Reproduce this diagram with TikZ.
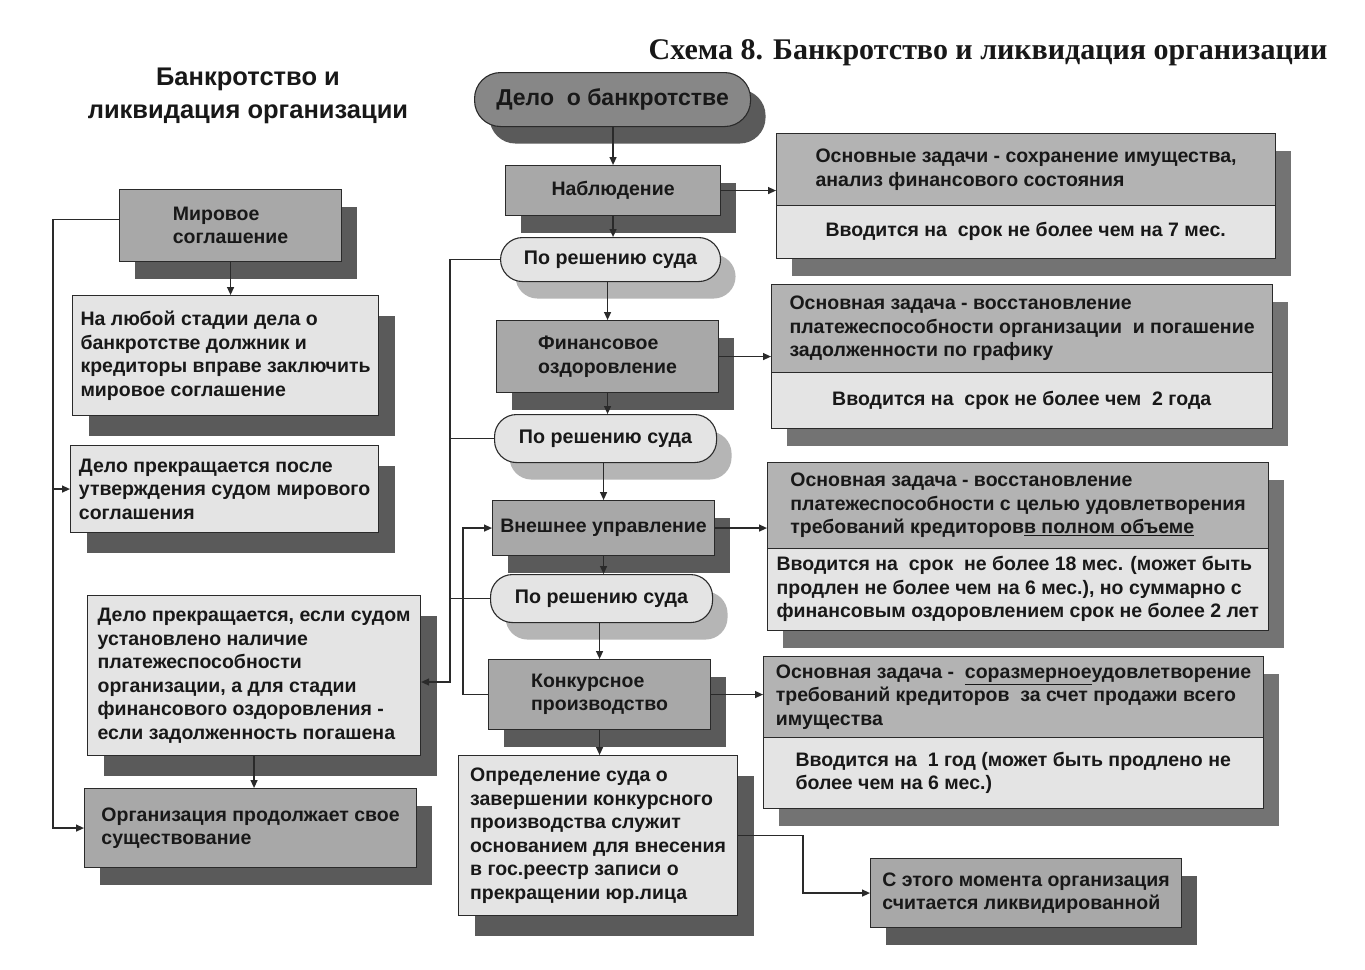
\documentclass[tikz,border=0pt]{standalone}
\usepackage{fontspec}
\setmainfont{Liberation Sans}
\newfontfamily\titleserif{Liberation Serif}
\usetikzlibrary{arrows.meta,shadows,calc}
\definecolor{txt}{HTML}{181818}
\definecolor{edge}{HTML}{2A2A2A}
\definecolor{midg}{HTML}{A8A8A8}
\definecolor{dkg}{HTML}{878787}
\definecolor{ltg}{HTML}{E4E4E4}
\definecolor{topg}{HTML}{B3B3B3}
\definecolor{shd}{HTML}{5A5A5A}
\definecolor{shdl}{HTML}{B5B5B5}
\newcommand\mkbox[7]{\node[#2, minimum width={(#5-#3)*1pt}, minimum height={(#6-#4)*1pt}, anchor=north west] (#1) at (#3,#4) {#7};}
\begin{document}
\begin{tikzpicture}[x=1pt,y=-1pt,
  every node/.style={font=\bfseries\fontsize{19.5}{23.5}\selectfont, text=txt},
  base/.style={draw=edge, line width=1.1pt, inner sep=0pt, align=left},
  dshadow/.style={drop shadow={shadow xshift=15pt, shadow yshift=-17pt, fill=shd, opacity=1}},
  lshadow/.style={drop shadow={shadow xshift=16pt, shadow yshift=-20pt, fill=shd, opacity=1}},
  procbox/.style={base, fill=midg, dshadow},
  textbox/.style={base, fill=ltg, lshadow},
  deloshape/.style={base, fill=dkg, rounded corners=26pt, dshadow, font=\bfseries\fontsize{23}{27}\selectfont},
  courtbox/.style={base, fill=ltg, rounded corners=22pt, font=\bfseries\fontsize{19.7}{23}\selectfont,
     drop shadow={shadow xshift=15pt, shadow yshift=-17pt, fill=shdl, opacity=1}},
  rbox/.style={base, fill=ltg, drop shadow={shadow xshift=15pt, shadow yshift=-17pt, fill=shd!85!white, opacity=1}},
  rtop/.style={base, fill=topg},
  rbot/.style={draw=none, inner sep=0pt, align=left},
  conn/.style={draw=edge, line width=1.3pt},
  arr/.style={conn, -{Triangle[length=8pt, width=7pt]}}
]
\fill[white] (0,0) rectangle (1365,969);
\useasboundingbox (0,0) rectangle (1365,969);

% titles
\node[font=\titleserif\bfseries\fontsize{30}{34}\selectfont, anchor=east] (title) at (1331,53) {Схема 8. Банкротство и ликвидация организации};
\node[font=\bfseries\fontsize{25.5}{33}\selectfont, align=center] (ltitle) at (248,96) {Банкротство и\\ликвидация организации};

% central chain
\mkbox{delo}{deloshape}{474}{72}{750}{126}{Дело~ о банкротстве}
\mkbox{nab}{procbox}{505}{165}{720}{215}{Наблюдение}
\mkbox{pr1}{courtbox}{500}{237}{720}{281}{По решению суда}
\mkbox{fin}{procbox}{496}{320}{718}{392}{Финансовое\\оздоровление}
\mkbox{pr2}{courtbox}{494}{414}{716}{462}{По решению суда}
\mkbox{vn}{procbox}{492}{500}{714}{555}{Внешнее управление}
\mkbox{pr3}{courtbox}{490}{574}{712}{622}{По решению суда}
\mkbox{kon}{procbox}{488}{659}{710}{729}{Конкурсное\\производство}
\mkbox{opr}{textbox}{458}{755}{737}{915}{Определение суда о\\завершении конкурсного\\производства служит\\основанием для внесения\\в гос.реестр записи о\\прекращении юр.лица}
\mkbox{sm}{procbox}{870}{858}{1181}{927}{С этого момента организация\\считается ликвидированной}

% left column
\mkbox{mir}{procbox}{119}{189}{341}{261}{Мировое\\соглашение}
\mkbox{lub}{textbox}{72}{295}{378}{415}{На любой стадии дела о\\банкротстве должник и\\кредиторы вправе заключить\\мировое соглашение}
\mkbox{pos}{textbox}{70}{445}{378}{532}{Дело прекращается после\\утверждения судом мирового\\соглашения}
\mkbox{esli}{textbox}{87}{595}{420}{755}{Дело прекращается, если судом\\установлено наличие\\платежеспособности\\организации, а для стадии\\финансового оздоровления -\\если задолженность погашена}
\mkbox{org}{procbox}{84}{788}{416}{867}{Организация продолжает свое\\существование}

% right column
\mkbox{b1}{rbox}{776}{133}{1275}{258}{}
\mkbox{b1t}{rtop}{776}{133}{1275}{205}{Основные задачи - сохранение имущества,\\анализ финансового состояния}
\mkbox{b1b}{rbot}{776}{205}{1275}{258}{Вводится на~ срок не более чем на 7 мес.}

\mkbox{b2}{rbox}{771}{284}{1272}{428}{}
\mkbox{b2t}{rtop}{771}{284}{1272}{372}{Основная задача - восстановление\\платежеспособности организации~ и погашение\\задолженности по графику}
\mkbox{b2b}{rbot}{771}{372}{1272}{428}{Вводится на~ срок не более чем~ 2 года}

\mkbox{b3}{rbox}{767}{462}{1268}{630}{}
\mkbox{b3t}{rtop}{767}{462}{1268}{548}{Основная задача - восстановление\\платежеспособности с целью удовлетворения\\требований кредиторов\underline{в полном объеме}}
\mkbox{b3b}{rbot}{767}{548}{1268}{630}{Вводится на~ срок~ не более 18 мес. (может быть\\продлен не более чем на 6 мес.), но суммарно с\\финансовым оздоровлением срок не более 2 лет}

\mkbox{b4}{rbox}{763}{656}{1263}{808}{}
\mkbox{b4t}{rtop}{763}{656}{1263}{737}{Основная задача -~ \underline{соразмерное}удовлетворение\\требований кредиторов~ за счет продажи всего\\имущества}
\mkbox{b4b}{rbot}{763}{737}{1263}{808}{Вводится на~ 1 год (может быть продлено не\\более чем на 6 мес.)}

% chain connectors
\draw[arr] (nab.north |- delo.south) -- (nab.north);
\draw[arr] (nab.south) -- (nab.south |- pr1.north);
\draw[arr] (fin.north |- pr1.south) -- (fin.north);
\draw[arr] (fin.south) -- (fin.south |- pr2.north);
\draw[arr] (vn.north |- pr2.south) -- (vn.north);
\draw[arr] (vn.south) -- (vn.south |- pr3.north);
\draw[arr] (kon.north |- pr3.south) -- (kon.north);
\draw[arr] (kon.south) -- (kon.south |- opr.north);

% to the right boxes
\draw[arr] (nab.east) -- (nab.east -| b1t.west);
\draw[arr] (fin.east) -- (fin.east -| b2t.west);
\draw[arr] (vn.east) -- (vn.east -| b3t.west);
\draw[arr] (kon.east) -- (kon.east -| b4t.west);

% liquidation
\draw[arr] (opr.east) -- ++(65,0) |- (sm.west);

% court decision trunk
\coordinate (tr) at (450,682);
\draw[arr] (pr1.west) -| (tr) -- (tr -| esli.east);
\draw[conn] (pr2.west) -- (pr2.west -| tr);
\draw[conn] (pr3.west) -- (pr3.west -| tr);

% return from bankruptcy proceedings to external management
\draw[arr] (kon.west) -- ++(-25,0) |- (vn.west);

% left column connectors
\draw[arr] (mir.south) -- (mir.south |- lub.north);
\draw[arr] (esli.south) -- (esli.south |- org.north);
\draw[arr] ([yshift=6pt]mir.west) -- ++(-66,0) coordinate (ll) |- (org.west);
\draw[arr] (ll |- pos.west) -- (pos.west);
\end{tikzpicture}
\end{document}
